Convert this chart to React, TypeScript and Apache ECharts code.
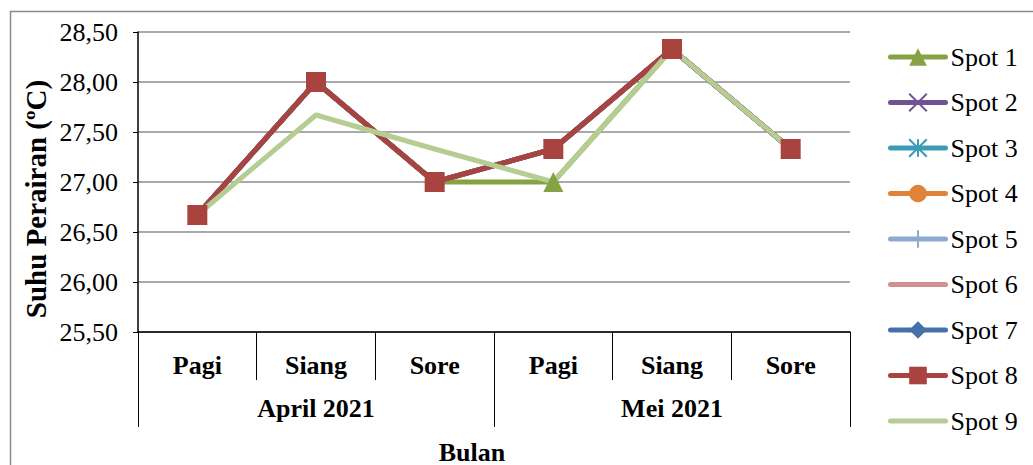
import React, { useEffect, useRef } from "react";
import * as echarts from "echarts";

const categories = ["Pagi", "Siang", "Sore", "Pagi", "Siang", "Sore"];
const months = ["April 2021", "Mei 2021"];
const yTicks = { min: 25.5, max: 28.5, interval: 0.5 };

const spot1 = [26.67, 28.0, 27.0, 27.0, 28.33, 27.33];
const spot2 = [26.67, 28.0, 27.0, 27.33, 28.33, 27.33];
const spot3 = [26.67, 28.0, 27.0, 27.33, 28.33, 27.33];
const spot4 = [26.67, 28.0, 27.0, 27.33, 28.33, 27.33];
const spot5 = [26.67, 28.0, 27.0, 27.33, 28.33, 27.33];
const spot6 = [26.67, 28.0, 27.0, 27.33, 28.33, 27.33];
const spot7 = [26.67, 28.0, 27.0, 27.33, 28.33, 27.33];
const spot8 = [26.67, 28.0, 27.0, 27.33, 28.33, 27.33];
const spot9 = [26.67, 27.67, 27.33, 27.0, 28.33, 27.33];

const seriesNames = ["Spot 1", "Spot 2", "Spot 3", "Spot 4", "Spot 5", "Spot 6", "Spot 7", "Spot 8", "Spot 9"];
const seriesData = [spot1, spot2, spot3, spot4, spot5, spot6, spot7, spot8, spot9];
const colors = ["#86A344", "#6F5392", "#3D9BB5", "#E0833A", "#8EA9D0", "#D49090", "#4471A8", "#A9433F", "#B5CD93"];
const symbols = [
  "triangle",
  "path://M0,0L10,10M10,0L0,10",
  "path://M0,0L10,10M10,0L0,10M5,0L5,10",
  "circle",
  "path://M5,0L5,10M0,5L10,5",
  "none",
  "diamond",
  "rect",
  "none",
];
const symbolSizes = [20, 14, 14, 16, 16, 8, 18, 20, 8];

const FONT = "Liberation Serif";

export default function App() {
  const ref = useRef<HTMLDivElement>(null);
  useEffect(() => {
    if (!ref.current) return;
    const chart = echarts.init(ref.current, undefined, { renderer: "svg" });
    const series = seriesNames.map((name, i) => ({
      name,
      type: "line",
      xAxisIndex: 0,
      data: seriesData[i],
      symbol: symbols[i],
      symbolSize: symbolSizes[i],
      lineStyle: { color: colors[i], width: 5, cap: "round", join: "round" },
      itemStyle: {
        color: colors[i],
        borderColor: colors[i],
        borderWidth: symbols[i].startsWith("path") ? 2.5 : 0,
        opacity: symbols[i] === "none" ? 0 : 1,
      },
      emphasis: { disabled: true },
    }));
    chart.setOption({
      animation: false,
      textStyle: { fontFamily: FONT },
      grid: { left: 138, right: 183, top: 32, bottom: 133, containLabel: false },
      legend: {
        orient: "vertical",
        left: 888,
        top: 44,
        padding: 0,
        itemWidth: 55,
        itemHeight: 22,
        itemGap: 19.5,
        data: seriesNames,
        lineStyle: { width: 5, cap: "round" },
        textStyle: { fontFamily: FONT, fontSize: 26, color: "#000", padding: [0, 0, 0, 0] },
        selectedMode: false,
      },
      xAxis: [
        {
          type: "category",
          data: categories,
          boundaryGap: true,
          position: "bottom",
          axisLine: { show: true, lineStyle: { color: "#000", width: 1.5 } },
          axisTick: { show: true, interval: 0, length: 48, lineStyle: { color: "#000", width: 1 } },
          axisLabel: { interval: 0, margin: 20, fontFamily: FONT, fontSize: 26, fontWeight: "bold", color: "#000" },
          splitLine: { show: false },
        },
        {
          type: "category",
          data: months,
          boundaryGap: true,
          position: "bottom",
          axisLine: { show: false },
          axisTick: { show: true, interval: 0, length: 95, lineStyle: { color: "#000", width: 1 } },
          axisLabel: { interval: 0, margin: 63, fontFamily: FONT, fontSize: 26, fontWeight: "bold", color: "#000" },
          splitLine: { show: false },
        },
      ],
      yAxis: {
        type: "value",
        min: yTicks.min,
        max: yTicks.max,
        interval: yTicks.interval,
        axisLine: { show: true, lineStyle: { color: "#000", width: 1.5 } },
        axisTick: { show: true, length: 5, lineStyle: { color: "#000" } },
        axisLabel: {
          margin: 20,
          fontFamily: FONT,
          fontSize: 26,
          color: "#000",
          formatter: (v: number) => v.toFixed(2).replace(".", ","),
        },
        splitLine: { show: true, lineStyle: { color: "#8c8c8c", width: 1.5 } },
      },
      graphic: [
        {
          type: "rect",
          left: 8,
          top: 9,
          shape: { x: 0, y: 0, width: 1100, height: 500 },
          style: { fill: "none", stroke: "#8a8a8a", lineWidth: 1.5 },
          silent: true,
          z: -10,
        },
        {
          type: "text",
          x: 36,
          y: 199,
          rotation: Math.PI / 2,
          style: {
            text: "Suhu Perairan (ºC)",
            font: `bold 29px ${FONT}`,
            fill: "#000",
            textAlign: "center",
            textVerticalAlign: "middle",
          },
        },
        {
          type: "text",
          x: 472,
          y: 452,
          style: {
            text: "Bulan",
            font: `bold 26px ${FONT}`,
            fill: "#000",
            textAlign: "center",
            textVerticalAlign: "middle",
          },
        },
      ],
      series,
    });
    return () => chart.dispose();
  }, []);
  return (
    <div
      ref={ref}
      style={{ position: "fixed", left: 0, top: 0, width: 1033, height: 465, background: "#fff" }}
    />
  );
}
